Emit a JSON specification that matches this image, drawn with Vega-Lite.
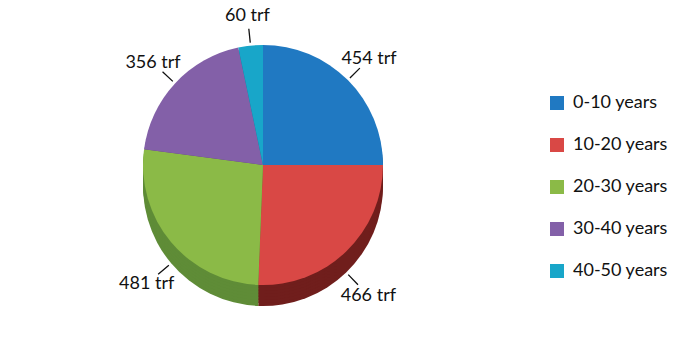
{
  "$schema": "https://vega.github.io/schema/vega-lite/v6.json",
  "width": 526,
  "height": 330,
  "padding": 0,
  "background": "white",
  "config": {"view": {"stroke": null}, "font": "Lato"},
  "data": {
    "values": [
      {"age": "0-10 years", "value": 454},
      {"age": "10-20 years", "value": 466},
      {"age": "20-30 years", "value": 481},
      {"age": "30-40 years", "value": 356},
      {"age": "40-50 years", "value": 60}
    ]
  },
  "encoding": {
    "theta": {"field": "value", "type": "quantitative", "stack": true},
    "order": {"field": "age", "type": "ordinal"}
  },
  "layer": [
    {"mark": {"type": "arc", "radius": 120, "yOffset": 21}, "encoding": {"color": {"field": "age", "type": "nominal", "legend": null, "scale": {"domain": ["0-10 years","10-20 years","20-30 years","30-40 years","40-50 years"], "range": ["#16568a","#701e1c","#5f8c37","#5a4075","#0f7390"]}}}},
    {"mark": {"type": "arc", "radius": 120, "yOffset": 18}, "encoding": {"color": {"field": "age", "type": "nominal", "legend": null, "scale": {"domain": ["0-10 years","10-20 years","20-30 years","30-40 years","40-50 years"], "range": ["#16568a","#701e1c","#5f8c37","#5a4075","#0f7390"]}}}},
    {"mark": {"type": "arc", "radius": 120, "yOffset": 15}, "encoding": {"color": {"field": "age", "type": "nominal", "legend": null, "scale": {"domain": ["0-10 years","10-20 years","20-30 years","30-40 years","40-50 years"], "range": ["#16568a","#701e1c","#5f8c37","#5a4075","#0f7390"]}}}},
    {"mark": {"type": "arc", "radius": 120, "yOffset": 12}, "encoding": {"color": {"field": "age", "type": "nominal", "legend": null, "scale": {"domain": ["0-10 years","10-20 years","20-30 years","30-40 years","40-50 years"], "range": ["#16568a","#701e1c","#5f8c37","#5a4075","#0f7390"]}}}},
    {"mark": {"type": "arc", "radius": 120, "yOffset": 9}, "encoding": {"color": {"field": "age", "type": "nominal", "legend": null, "scale": {"domain": ["0-10 years","10-20 years","20-30 years","30-40 years","40-50 years"], "range": ["#16568a","#701e1c","#5f8c37","#5a4075","#0f7390"]}}}},
    {"mark": {"type": "arc", "radius": 120, "yOffset": 6}, "encoding": {"color": {"field": "age", "type": "nominal", "legend": null, "scale": {"domain": ["0-10 years","10-20 years","20-30 years","30-40 years","40-50 years"], "range": ["#16568a","#701e1c","#5f8c37","#5a4075","#0f7390"]}}}},
    {"mark": {"type": "arc", "radius": 120, "yOffset": 3}, "encoding": {"color": {"field": "age", "type": "nominal", "legend": null, "scale": {"domain": ["0-10 years","10-20 years","20-30 years","30-40 years","40-50 years"], "range": ["#16568a","#701e1c","#5f8c37","#5a4075","#0f7390"]}}}},
    {
      "mark": {"type": "arc", "radius": 120},
      "encoding": {
        "color": {
          "field": "age",
          "type": "nominal",
          "scale": {"domain": ["0-10 years","10-20 years","20-30 years","30-40 years","40-50 years"], "range": ["#2079c2","#d94845","#8bba47","#8360a8","#18a6c9"]},
          "legend": {
            "orient": "none", "legendX": 548, "legendY": 94, "title": null,
            "symbolType": "square", "symbolSize": 196, "symbolStrokeWidth": 0,
            "labelFontSize": 18, "labelFont": "Lato", "labelColor": "#111", "rowPadding": 24, "labelOffset": 7
          }
        }
      }
    },
    {
      "mark": {"type": "arc", "radius": 137, "radius2": 123, "padAngle": 1.5, "fillOpacity": 0, "stroke": "#111", "strokeWidth": 1.3},
      "encoding": {"strokeOpacity": {"condition": {"test": "datum.age == '10-20 years' || datum.age == '20-30 years'", "value": 0}, "value": 1}}
    },
    {
      "mark": {"type": "arc", "radius": 137, "radius2": 123, "padAngle": 1.5, "fillOpacity": 0, "stroke": "#111", "strokeWidth": 1.3, "yOffset": 21},
      "encoding": {"strokeOpacity": {"condition": {"test": "datum.age == '10-20 years' || datum.age == '20-30 years'", "value": 1}, "value": 0}}
    },
    {
      "transform": [{"calculate": "datum.value + ' trf'", "as": "label"}],
      "mark": {"type": "text", "radius": 150, "fontSize": 18, "font": "Lato", "color": "#111"},
      "encoding": {
        "text": {"field": "label"},
        "opacity": {"condition": {"test": "datum.age == '10-20 years' || datum.age == '20-30 years'", "value": 0}, "value": 1}
      }
    },
    {
      "transform": [{"calculate": "datum.value + ' trf'", "as": "label"}],
      "mark": {"type": "text", "radius": 152, "fontSize": 18, "font": "Lato", "color": "#111", "yOffset": 21},
      "encoding": {
        "text": {"field": "label"},
        "opacity": {"condition": {"test": "datum.age == '10-20 years' || datum.age == '20-30 years'", "value": 1}, "value": 0}
      }
    }
  ],
  "resolve": {"scale": {"color": "independent"}}
}
